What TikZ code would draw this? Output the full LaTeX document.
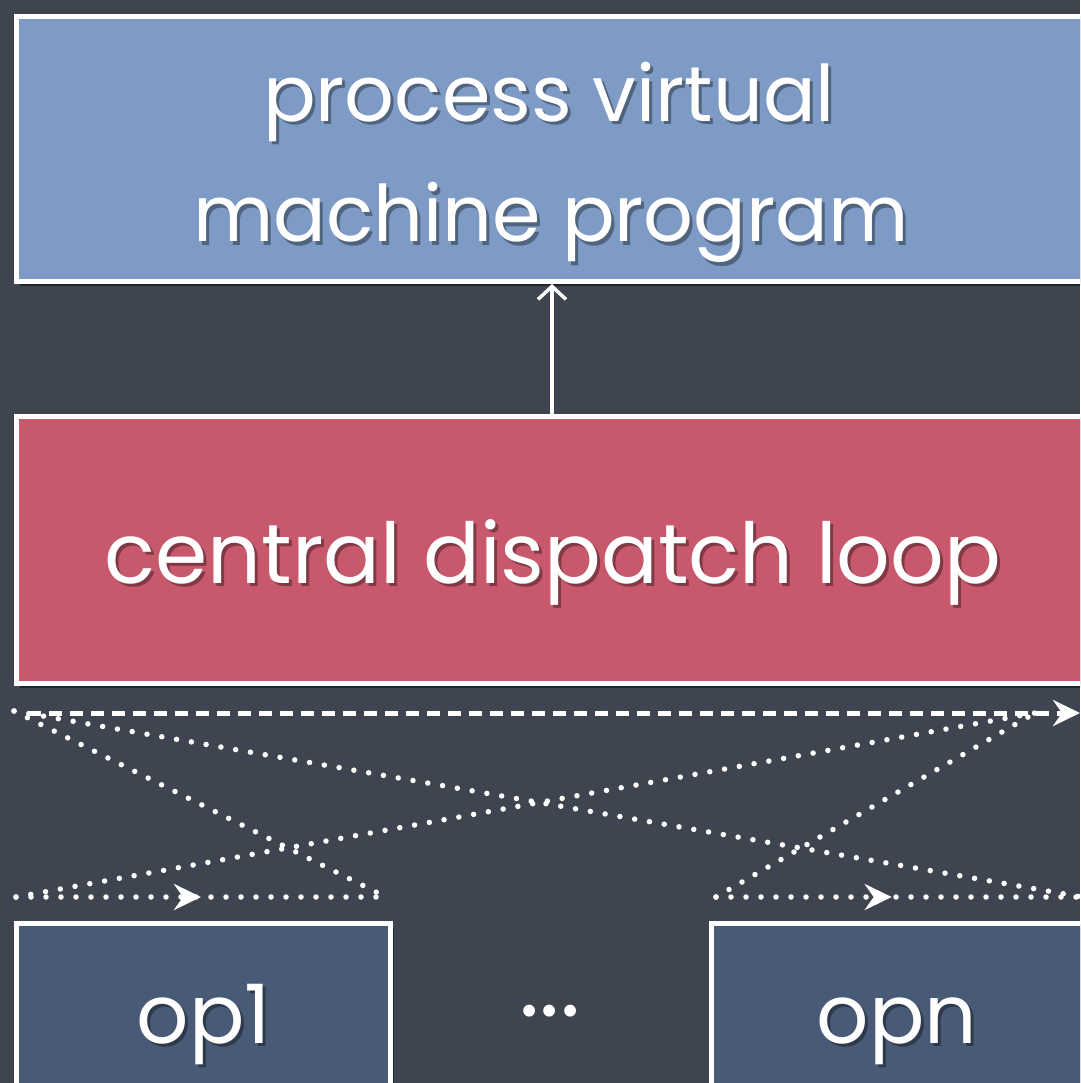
\documentclass[tikz,border=0pt]{standalone}
\usepackage{fontspec}
\setmainfont{Poppins}
\usetikzlibrary{arrows.meta,decorations.markings,shadows}

\definecolor{board}{RGB}{63,68,81}
\definecolor{progblue}{RGB}{125,155,196}
\definecolor{looprose}{RGB}{200,88,108}
\definecolor{opslate}{RGB}{72,90,118}

\tikzset{
  panel/.style={draw=white, line width=5pt, inner sep=0pt, anchor=north west,
    drop shadow={opacity=0.45, shadow xshift=3pt, shadow yshift=-4pt, fill=black}},
  word/.style={text=white, inner sep=0pt, anchor=base},
  wordshade/.style={word, text=black, text opacity=0.35},
  progfont/.style={font=\fontsize{78}{94}\selectfont},
  loopfont/.style={font=\fontsize{84}{100}\selectfont},
  opfont/.style={font=\fontsize{82}{98}\selectfont},
  dots/.style={white, line width=5.5pt, line cap=round, dash pattern=on 0pt off 15pt},
  dashes/.style={white, line width=5pt, dash pattern=on 13pt off 8pt},
  bigtip/.style={-{Stealth[length=27pt,width=26pt,inset=9pt]}},
  midtip/.style={postaction={decorate}, decoration={markings,
    mark=at position #1 with {\arrow{Stealth[length=27pt,width=26pt,inset=9pt]}}}}
}

\begin{document}
\begin{tikzpicture}[x=1pt, y=-1pt]
  % chalkboard
  \fill[board] (0,0) rectangle (1080,1083);
  \useasboundingbox (0,0) rectangle (1080,1083);
  \clip (0,0) rectangle (1080,1083);

  % boxes
  \node[panel, fill=progblue, minimum width=1071pt, minimum height=265pt] (prog) at (14,14) {};
  \node[panel, fill=looprose, minimum width=1071pt, minimum height=267pt] (loop) at (14,414) {};
  \node[panel, fill=opslate, minimum width=374pt, minimum height=170pt] (op1) at (14,921) {};
  \node[panel, fill=opslate, minimum width=376pt, minimum height=170pt] (opn) at (709,921) {};

  % labels, each over a soft dark copy
  \node[wordshade, progfont] at (552,125) {process virtual};
  \node[word, progfont] (progtxta) at (549,122) {process virtual};
  \node[wordshade, progfont] at (554,245) {machine program};
  \node[word, progfont] (progtxtb) at (551,242) {machine program};
  \node[wordshade, loopfont] at (556,586) {central dispatch loop};
  \node[word, loopfont] (looptxt) at (553,583) {central dispatch loop};
  \node[wordshade, opfont] at (207,1046) {op1};
  \node[word, opfont] (op1txt) at (204,1043) {op1};
  \node[wordshade, opfont] at (900,1046) {opn};
  \node[word, opfont] (opntxt) at (897,1043) {opn};
  \node[word, font=\fontsize{96}{110}\selectfont] (gap) at (550,1016) {...};

  % call into the program
  \draw[white, line width=3.5pt, -{Straight Barb[length=13pt,width=28pt]}] (loop.north) -- (prog.south);

  % dispatch paths
  \coordinate (hub) at (14,711);
  \coordinate (ret) at (1035,713);
  \coordinate (a1) at (16,897);
  \coordinate (b1) at (386,897);
  \coordinate (an) at (716,897);
  \coordinate (bn) at (1082,897);
  \coordinate (dl) at (28,713);
  \coordinate (dr) at (1080,713);

  \draw[dashes, bigtip] (dl) -- (dr);
  \draw[dots] (hub) -- (b1);
  \draw[dots] (hub) -- (bn);
  \draw[dots] (a1) -- (ret);
  \draw[dots] (an) -- (ret);
  \draw[dots, midtip=0.5] (a1) -- (b1);
  \draw[dots, midtip=0.48] (an) -- (bn);
\end{tikzpicture}
\end{document}
